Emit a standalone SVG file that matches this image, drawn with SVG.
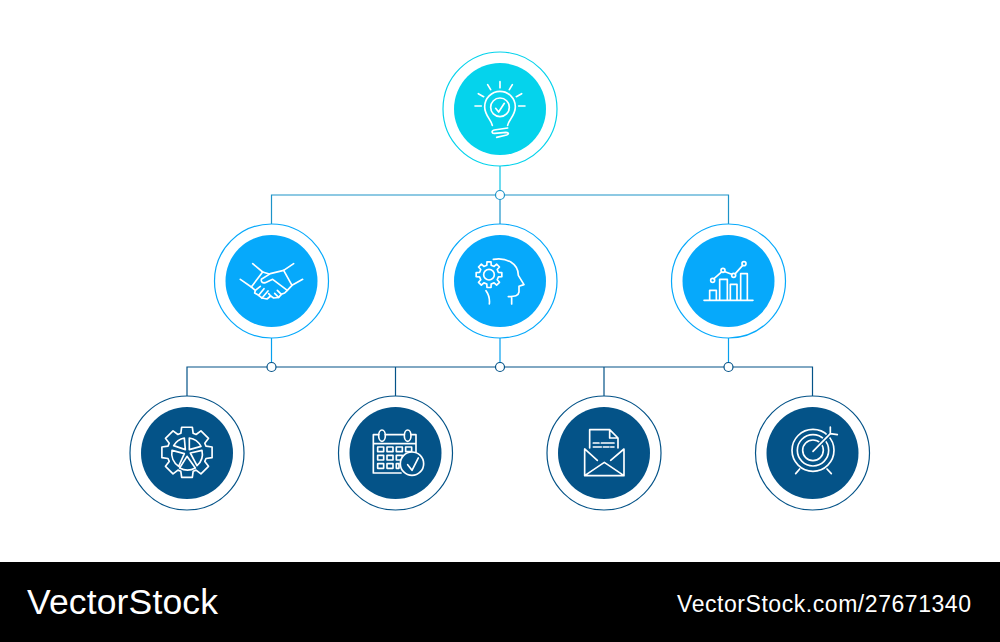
<svg xmlns="http://www.w3.org/2000/svg" xmlns:xlink="http://www.w3.org/1999/xlink" width="1000" height="642" viewBox="0 0 1000 642">
<style>
.ring{fill:#fff;stroke-width:1.2}
.c1 .ring{stroke:#05d3ec}.c1 .disc{fill:#05d3ec}
.c2 .ring{stroke:#06a9fb}.c2 .disc{fill:#06a9fb}
.c3 .ring{stroke:#045388}.c3 .disc{fill:#045388}
.icon{fill:none;stroke:#fff;stroke-width:5;stroke-linecap:round;stroke-linejoin:round}
.dot{fill:#fff;stroke-width:1.2}
.link{fill:none;stroke-width:1.2}
.wm{fill:#fff;font-family:"Liberation Sans",Arial,sans-serif}
</style>
<defs>
<path id="gear" d="M28.3-6.5L38.5-6.1V6.1L28.3 6.5L24.6 15.4L31.5 22.9L22.9 31.5L15.4 24.6L6.5 28.3L6.1 38.5H-6.1L-6.500 28.3L-15.4 24.6L-22.9 31.5L-31.5 22.9L-24.6 15.4L-28.3 6.5L-38.5 6.1V-6.1L-28.3-6.5L-24.6-15.4L-31.5-22.9L-22.9-31.5L-15.4-24.6L-6.5-28.3L-6.1-38.5H6.1L6.5-28.3L15.4-24.6L22.9-31.5L31.5-22.9L24.6-15.4Z"/>
</defs>
<rect width="1000" height="642" fill="#fff"/>
<g id="connectors">
<path class="link" stroke="#0dc3e4" d="M500 166V195"/>
<path class="link" stroke="#1c93c8" d="M271.500 224V195H728.500V224M500 195V224"/>
<path class="link" stroke="#06a0ee" d="M271.500 338V367M500 338V367M728.500 338V367"/>
<path class="link" stroke="#045388" d="M187 396V367H812.500V396M395.500 367V396M604 367V396"/>
<circle class="dot" stroke="#1c93c8" cx="500" cy="195" r="4.500"/>
<circle class="dot" stroke="#045388" cx="271.500" cy="367" r="4.500"/>
<circle class="dot" stroke="#045388" cx="500" cy="367" r="4.500"/>
<circle class="dot" stroke="#045388" cx="728.500" cy="367" r="4.500"/>
</g>
<g id="node-idea" class="c1">
<circle class="ring" cx="500" cy="109" r="57"/><circle class="disc" cx="500" cy="109" r="46"/>
<g class="icon" transform="translate(440 50) scale(.3333)">
<path d="M180 95V113M143 104L152 119M217 104L208 119M115 131L131 140M245 131L229 140M105 168H124M236 168H255"/>
<path d="M157 226C153 208 134 196 134 170A46 46 0 0 1 226 170C226 196 207 208 203 226"/>
<circle cx="180" cy="172" r="28"/><path d="M167 175L176 186L193 160"/>
<path d="M203 234L163 240C153 243 155 251 164 250L198 247C207 247 207 253 200 255L170 262"/>
</g></g>
<g id="node-handshake" class="c2">
<circle class="ring" cx="271.500" cy="281" r="57"/><circle class="disc" cx="271.500" cy="281" r="46"/>
<g class="icon" transform="translate(212 222) scale(.3333)">
<path d="M122 125L152 150L118 195L85 172M245 125L215 145L240 190L272 172"/>
<path d="M215 145L175 155L148 172C146 180 152 184 160 182L182 172L226 205"/>
<path d="M152 150L172 156M118 195L130 205L128 213L140 220L150 228L165 231L176 222L185 228L200 226L208 217L218 213L226 205L240 190"/>
<path d="M130 205L145 193M140 220L156 200M150 228L168 207M176 222L170 215M200 226L188 214M208 217L196 205"/>
</g></g>
<g id="node-mind" class="c2">
<circle class="ring" cx="500" cy="281" r="57"/><circle class="disc" cx="500" cy="281" r="46"/>
<g class="icon" transform="translate(440 222) scale(.3333)">
<use xlink:href="#gear" href="#gear" x="147" y="158"/>
<circle cx="147" cy="158" r="16"/>
<path d="M160 112C200 105 235 125 235 160L252 188L237 193V210C235 222 225 223 205 224M215 224V246M138 206C148 220 150 230 148 246"/>
</g></g>
<g id="node-chart" class="c2">
<circle class="ring" cx="728.500" cy="281" r="57"/><circle class="disc" cx="728.500" cy="281" r="46"/>
<g class="icon" transform="translate(668 222) scale(.3333)">
<path d="M108 235H255M125 235V205H145V235M155 235V172H178V235M187 235V187H207V235M218 235V155H238V235"/>
<path d="M138 170L161 150M171 149L191 157M202 155L224 130"/>
<circle cx="134" cy="175" r="6"/><circle cx="165" cy="145" r="6"/><circle cx="197" cy="160" r="6"/><circle cx="228" cy="125" r="6"/>
</g></g>
<g id="node-settings" class="c3">
<circle class="ring" cx="187" cy="453" r="57"/><circle class="disc" cx="187" cy="453" r="46"/>
<g class="icon" transform="translate(127 393) scale(.3333)">
<path transform="translate(180 178)" d="M57-18.5L75.3-16V16L57 18.5L53.4 27.2L64.6 41.9L41.9 64.6L27.2 53.4L18.500 57L16 75.300H-16L-18.500 57L-27.200 53.4L-41.900 64.6L-64.600 41.9L-53.400 27.2L-57 18.5L-75.300 16V-16L-57-18.500L-53.400-27.200L-64.600-41.900L-41.900-64.600L-27.200-53.400L-18.500-57L-16-75.300H16L18.500-57L27.200-53.400L41.900-64.600L64.600-41.900L53.400-27.200Z"/>
<path d="M187 135V170L222 160A48 48 0 0 0 187 135ZM172 135L175 170L140 158A48 48 0 0 1 172 135ZM135 172L172 182L155 220A48 48 0 0 1 135 172ZM180 190L205 225A48 48 0 0 1 158 225ZM190 180L225 172A48 48 0 0 1 210 218Z"/>
</g></g>
<g id="node-calendar" class="c3">
<circle class="ring" cx="395.500" cy="453" r="57"/><circle class="disc" cx="395.500" cy="453" r="46"/>
<g class="icon" transform="translate(336 393) scale(.3333)">
<path d="M128 125H112V240H195M148 125H205M225 125H240V180M112 152H240"/>
<ellipse cx="138" cy="128" rx="10" ry="17"/><ellipse cx="215" cy="128" rx="10" ry="17"/>
<path d="M125 162h18v14h-18zM153 162h18v14h-18zM181 162h18v14h-18zM209 162h18v14h-18zM125 187h18v14h-18zM153 187h18v14h-18zM181 187h18v14h-18zM125 212h18v14h-18zM153 212h18v14h-18zM181 212h8v14h-8z"/>
<circle cx="228" cy="212" r="35" fill="#045388"/>
<path d="M215 215L228 232L247 195"/>
</g></g>
<g id="node-mail" class="c3">
<circle class="ring" cx="604" cy="453" r="57"/><circle class="disc" cx="604" cy="453" r="46"/>
<g class="icon" transform="translate(544 393) scale(.3333)">
<path d="M137 165V110H197L222 135V165M197 110V135H222"/>
<path d="M148 150H165M172 150H210M148 162H172M178 162H195M200 162H210"/>
<path d="M122 168V248H240V168L200 202M122 168L160 202M122 248L181 208L240 248"/>
</g></g>
<g id="node-target" class="c3">
<circle class="ring" cx="812.500" cy="453" r="57"/><circle class="disc" cx="812.500" cy="453" r="46"/>
<g class="icon" transform="translate(753 393) scale(.3333)">
<circle cx="180" cy="172" r="63"/><circle cx="180" cy="172" r="47"/><circle cx="180" cy="172" r="31"/>
<path d="M180 175L232 122" stroke="#045388" stroke-width="13"/>
<path d="M180 175L232 122M232 102V122L253 125M128 242L140 228M235 242L222 228"/>
</g></g>
<rect id="footer" y="562" width="1000" height="80" fill="#000"/>
<text class="wm" x="27" y="614" font-size="35.500" textLength="191" lengthAdjust="spacing">VectorStock</text>
<text class="wm" x="677" y="612" font-size="23" textLength="294" lengthAdjust="spacing">VectorStock.com/27671340</text>
</svg>
